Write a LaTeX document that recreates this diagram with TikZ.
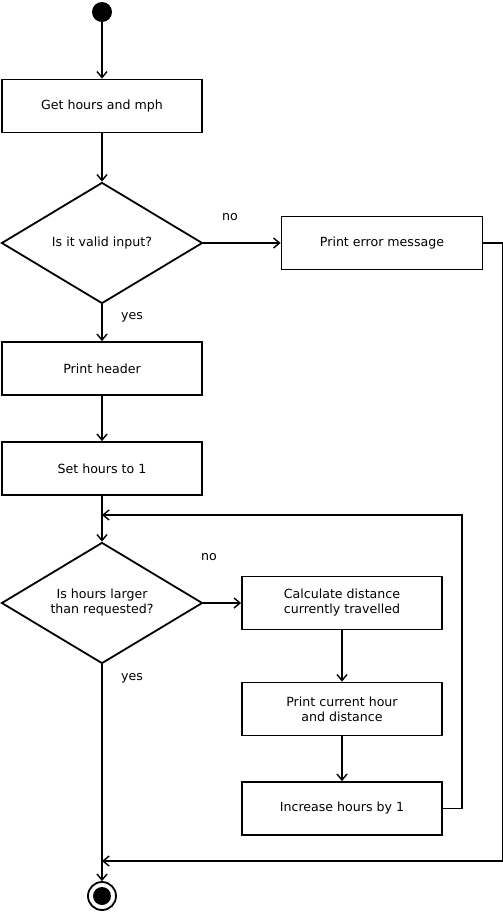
\documentclass[tikz,border=0pt]{standalone}
\usepackage{fontspec}
\setmainfont{DejaVu Sans}
\usetikzlibrary{shapes.geometric,arrows.meta}

\tikzset{
  box/.style={draw,line width=1.8pt,minimum width=200pt,minimum height=53pt,align=center,inner sep=0pt},
  decision/.style={draw,line width=1.8pt,diamond,minimum width=201pt,minimum height=121pt,align=center,inner sep=0pt,aspect=1.66},
  flow/.style={line width=1.8pt,-{Straight Barb[length=6pt,width=10pt,line width=1.4pt]}},
  link/.style={line width=1.8pt}
}

\begin{document}
\begin{tikzpicture}[x=1pt,y=-1pt,font=\fontsize{12.6}{15}\selectfont]

\useasboundingbox (0,0) rectangle (503,913);

% start and end
\node (start) at (102,12) [circle,fill,inner sep=0pt,minimum size=20pt] {};
\node (stop) at (102,896) [circle,draw,line width=1.8pt,inner sep=0pt,minimum size=28pt] {};
\node (stopdot) at (102,896) [circle,fill,inner sep=0pt,minimum size=18pt] {};

% left column
\node (input) at (102,106) [box] {Get hours and mph};
\node (valid) at (102,243) [decision] {Is it valid input?};
\node (header) at (102,368.5) [box] {Print header};
\node (sethours) at (102,468.5) [box] {Set hours to 1};
\node (larger) at (102,603) [decision] {Is hours larger\\than requested?};

% right column
\node (error) at (382,243) [box,minimum width=201pt] {Print error message};
\node (calc) at (342,603) [box] {Calculate distance\\currently travelled};
\node (show) at (342,709) [box] {Print current hour\\and distance};
\node (inc) at (342,808.5) [box] {Increase hours by 1};

% helper points
\coordinate (loopin) at (102,515);
\coordinate (endin) at (102,861);

% connectors
\draw [flow] (start) -- (input);
\draw [flow] (input) -- (valid);
\draw [flow] (valid) -- (error);
\draw [flow] (valid) -- (header);
\draw [flow] (header) -- (sethours);
\draw [link] (sethours) -- (loopin);
\draw [flow] (loopin) -- (larger);
\draw [flow] (larger) -- (calc);
\draw [flow] (calc) -- (show);
\draw [flow] (show) -- (inc);
\draw [flow] (inc.east) -- ++(19,0) |- (loopin);
\draw [flow] (error.east) -- ++(19,0) |- (endin);
\draw [flow] (larger.south) -- (stop);

% labels
\node (no1) at (230,217) {no};
\node (yes1) at (132,317) {yes};
\node (no2) at (209,557) {no};
\node (yes2) at (132,678) {yes};

\end{tikzpicture}
\end{document}
